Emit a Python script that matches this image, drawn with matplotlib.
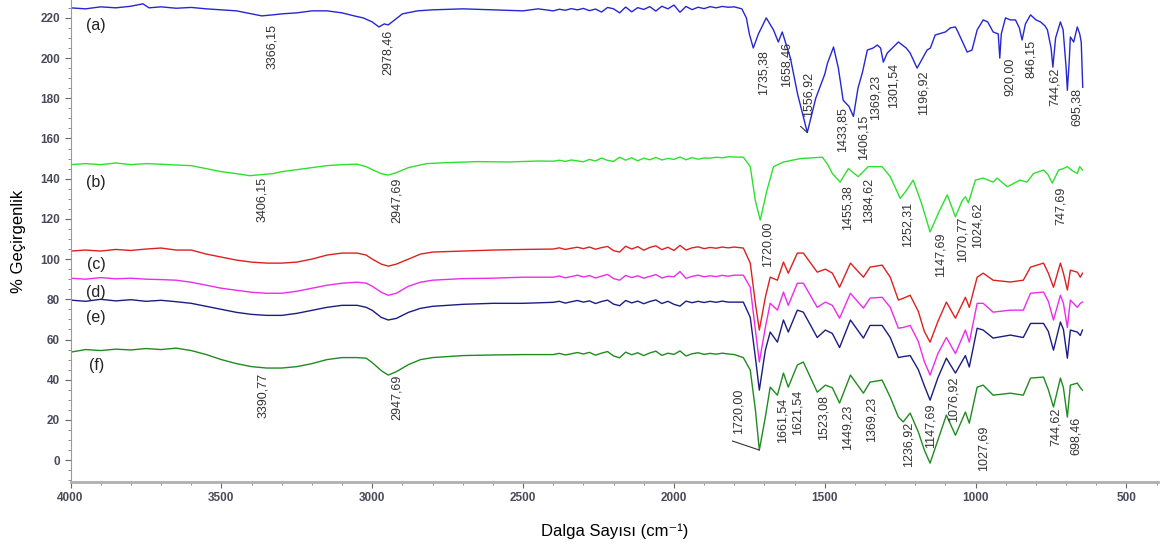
import numpy as np
import matplotlib
matplotlib.use("Agg")
import matplotlib.pyplot as plt
from matplotlib.ticker import MultipleLocator

plt.rcParams['font.family'] = ['Liberation Sans', 'DejaVu Sans']

# ---- spectra (wavenumber, % transmittance) ----
a_wn = [4000, 3950, 3900, 3850, 3800, 3760, 3740, 3700, 3650, 3600, 3550, 3500, 3450, 3400, 3366, 3330,
        3300, 3250, 3200, 3150, 3100, 3060, 3030, 3000, 2978, 2960, 2947, 2930, 2900, 2850, 2800, 2700,
        2600, 2500, 2450,
        2400, 2380, 2360, 2340, 2320, 2300, 2280, 2260, 2240, 2220, 2200, 2180, 2160, 2140, 2120, 2100,
        2080, 2060, 2040, 2020, 2000, 1980, 1960, 1940, 1920, 1900, 1880, 1860, 1840, 1820, 1800,
        1775, 1760, 1750, 1737, 1720, 1694, 1670, 1654, 1641, 1614, 1590, 1558, 1530, 1500, 1491, 1471,
        1455, 1439, 1420, 1405, 1390, 1375, 1359, 1340, 1326, 1315, 1306, 1293, 1256, 1230, 1217, 1194,
        1161, 1150, 1134, 1100, 1084, 1067, 1057, 1040, 1028, 1012, 995, 975, 960, 942, 925, 920,
        915, 901, 885, 868, 855, 846, 835, 818, 800, 785, 770, 762, 750, 744, 735, 719,
        710, 700, 696, 690, 686, 675, 663, 655, 650, 645]
a_t = [225, 224.5, 225.5, 225, 225.8, 227, 225, 225.5, 224.8, 225.2, 224.5, 224, 223.5, 222, 221, 221.5,
       222, 222.5, 223.5, 223.5, 222.5, 221, 220, 218, 215.5, 217, 216.5, 218.5, 222, 223.5, 224, 224.5,
       224, 223.5, 224.5,
       223.5, 224.3, 223.8, 224.6, 224, 224.7, 223.6, 224.4, 222.9, 225.2, 224.5, 222.5, 225.4, 223, 225.1, 224.2,
       225.6, 223.4, 225.8, 224.5, 226.4, 222.8, 225.7, 224.1, 225.3, 224.6, 225.6, 225, 225.7, 225.3, 225.5,
       224.5, 220, 212, 205, 212, 220, 214, 208, 213, 200, 182, 163, 180, 192, 197.5, 205.5,
       195, 179, 176, 171, 185, 193, 204, 205, 206.5, 205, 198, 202.5, 208, 205, 202.5, 195,
       204, 205, 211.5, 213, 215, 215.5, 212.5, 207, 203, 204, 214, 219, 218, 213, 212, 200,
       212, 220, 219, 219, 215, 209, 217, 221.5, 219, 218, 216, 214, 205, 195.5, 210, 218,
       214, 195, 184, 198, 210.5, 208, 215.5, 212, 208, 185.5]

b_wn = [4000, 3950, 3900, 3850, 3800, 3750, 3700, 3650, 3600, 3550, 3500, 3450, 3406, 3370, 3330, 3300,
        3250, 3200, 3150, 3100, 3050, 3020, 3000, 2970, 2947, 2920, 2880, 2820, 2750, 2650, 2550, 2450,
        2400, 2380, 2360, 2340, 2320, 2300, 2280, 2260, 2240, 2220, 2200, 2180, 2160, 2140, 2120, 2100,
        2080, 2060, 2040, 2020, 2000, 1980, 1960, 1940, 1920, 1900, 1880, 1860, 1840, 1820, 1800,
        1770, 1747, 1730, 1714,
        1692, 1670, 1637, 1581, 1508, 1490, 1475, 1449, 1422, 1389, 1356, 1310, 1283, 1250, 1230, 1207,
        1180, 1151, 1120, 1094, 1067, 1045, 1034, 1024, 1001, 975, 942, 929, 895, 853, 830, 808,
        775, 760, 746, 725, 710, 696, 680, 663, 655, 646]
b_t = [147, 147.5, 147, 147.8, 147, 147.5, 147.2, 146.8, 146.5, 145, 143.5, 142.5, 141.5, 142, 142.5, 143.5,
       144.5, 145.5, 146.5, 147, 147.2, 146, 144.5, 142.5, 141.8, 143, 145.5, 147.5, 148, 148.5, 148.3, 148.8,
       148.7, 149.2, 148.6, 149.3, 148.9, 148.4, 149.6, 148.8, 150.3, 149.1, 148.6, 150.7, 149.2, 150.4, 148.9, 150.2,
       149.4, 150.6, 149.3, 150.1, 149.6, 150.8, 149.4, 150.5, 149.7, 150.3, 150.2, 150.7, 150.4, 150.9, 150.8,
       150.7, 146, 129, 119.4,
       134, 146, 148.3, 150, 150.7, 147, 142.6, 138.3, 145, 141, 146, 146, 141, 130.2, 134, 139.3,
       128, 113.5, 124, 132, 121, 129, 131, 128, 139.3, 140.3, 138.3, 140.3, 136, 139.3, 138.3, 142.6,
       144.3, 142, 137.8, 144.3, 145, 146, 144, 142.6, 146, 144.3]

# c, d, e, f share the same sampling positions
cdef_wn = [4000, 3950, 3900, 3850, 3800, 3750, 3700, 3650, 3600, 3550, 3500, 3450, 3400, 3350, 3300, 3250,
           3200, 3150, 3100, 3050, 3020, 3000, 2970, 2947, 2920, 2880, 2840, 2800, 2700, 2600, 2500,
           2400, 2380, 2360, 2340, 2320, 2300, 2280, 2260, 2240, 2220, 2200, 2180, 2160, 2140, 2120, 2100,
           2080, 2060, 2040, 2020, 2000, 1980, 1960, 1940, 1920, 1900, 1880, 1860, 1840, 1820, 1800,
           1770, 1747, 1730,
           1717, 1697, 1681, 1657, 1637, 1621, 1591, 1571, 1525, 1498, 1475, 1451, 1415, 1372, 1350, 1310,
           1283, 1256, 1240, 1217, 1190, 1170, 1151, 1125, 1097, 1067, 1034, 1021, 995, 975, 942, 885,
           842, 818, 775, 759, 742, 719, 709, 696, 686, 663, 653, 646]
c_t = [104, 104.5, 104, 104.8, 104.3, 105, 105.5, 104.5, 104.5, 102.5, 101, 99.5, 98.5, 98, 98, 98.5,
       100, 102, 103, 103, 102, 100, 97.5, 96.5, 97.5, 100, 102.5, 103.5, 104, 104.5, 104.8,
       105, 105.6, 104.8, 105.4, 105.9, 105.2, 106, 104.9, 105.7, 106.3, 104.2, 103.5, 106.4, 105, 106.2, 104.4,
       105.8, 106.6, 104.7, 105.9, 104.3, 106.8, 104.5, 105.6, 106.1, 105.2, 105.8, 105.4, 106, 105.6, 106,
       105.5, 98, 78,
       64.7, 81, 91, 89.5, 98.5, 93, 103, 103, 93.5, 95, 93, 86, 98, 91, 96, 97,
       91, 79.6, 80.5, 82, 74, 64, 58.7, 69, 78.6, 70.6, 81, 76, 91, 93, 89.5, 88.6,
       89.5, 96, 98, 93, 86, 98, 93, 84.6, 94.5, 93.5, 91, 93]
d_t = [90.5, 90, 90.8, 90.2, 90.5, 90, 89.8, 89.5, 88.5, 87, 85.5, 84.5, 83.5, 83, 83, 84,
       85.5, 87, 88, 88.5, 88, 86.5, 83.5, 82, 83, 86.5, 88.5, 89.5, 90.3, 90.5, 91,
       91, 91.6, 90.7, 91.3, 92, 91.1, 91.8, 90.6, 91.5, 92.4, 90.3, 89.5, 91.9, 90.8, 91.7, 90.5,
       91.4, 92.3, 90.6, 91.5, 91.2, 93.8, 90.4, 91.4, 92, 91.2, 91.7, 91.3, 91.9, 91.5, 92,
       92, 86, 64.7,
       48.8, 66, 78, 74.6, 83.6, 77, 88, 88, 76, 78.6, 77, 70.6, 83, 75.6, 80.6, 81,
       76, 65.6, 66, 67, 59, 49, 42.3, 53, 61, 53, 64.7, 58.7, 78, 78, 73.6, 74.6,
       74.6, 83, 83.6, 79, 69.7, 82, 78, 66, 79.6, 76, 78, 78.6]
e_t = [79.6, 79, 80, 79.2, 79.8, 79, 79.5, 78.8, 78, 76.5, 75, 73.5, 72.5, 72, 72, 73,
       74.5, 76, 77, 77, 76, 74.5, 71, 69.7, 70.5, 73.5, 75.5, 76.5, 77.5, 78, 78,
       78.5, 79, 78.1, 78.8, 79.4, 78.6, 79.2, 77.9, 78.9, 79.6, 77.6, 76.8, 79.4, 78.2, 79.1, 77.8,
       78.9, 79.7, 77.9, 79, 77.5, 76.6, 79.1, 78.3, 79, 78.4, 79, 78.5, 79.1, 78.6, 78.6,
       78.6, 71, 51,
       34.8, 54.7, 63.7, 58.7, 69.7, 63.7, 74.6, 73.6, 61, 64.7, 63, 56, 69.7, 60.7, 67, 67,
       61, 51, 51.5, 52, 45, 37, 29.8, 41, 50.7, 43.3, 52, 46.3, 65.6, 64.7, 60.7, 62.2,
       61, 68, 68, 64, 54.7, 68.7, 65, 50.7, 64.7, 63.7, 62, 64.7]
f_t = [53.7, 55, 54.5, 55.2, 54.8, 55.5, 55, 55.7, 54.5, 52.5, 50, 48, 46.5, 45.8, 45.8, 46.5,
       48, 50, 51, 51, 50.7, 48.5, 44.5, 42.3, 44, 47.5, 50, 51, 52, 52.3, 52.5,
       52.5, 53.1, 52.3, 52.9, 53.5, 52.8, 53.6, 52.2, 53.2, 54, 51.8, 50.9, 53.7, 52.4, 53.4, 52,
       53.3, 54.2, 52.1, 53.2, 52.6, 54.3, 51.8, 52.9, 53.4, 52.6, 53.1, 52.7, 53.2, 52.8, 52.5,
       51, 44.8, 25,
       5, 21.4, 36.3, 32.3, 43.3, 36.3, 47.3, 48.8, 33.8, 37.3, 36, 28.4, 42.3, 33.3, 38.8, 39.8,
       31.3, 21.4, 19, 23.4, 14, 5, -1.5, 10, 22.4, 12.4, 23.9, 18.4, 36.3, 37.3, 32.3, 33.3,
       32.3, 40.8, 41.3, 35, 26.4, 40.8, 36, 21.4, 37.3, 38.3, 36, 34.8]

series_names = ["(a)", "(b)", "(c)", "(d)", "(e)", "(f)"]
series_colors = ["#2626d2", "#2ee02e", "#dd2020", "#ec2cec", "#1c1c82", "#1f8c1f"]
name_y = [216, 138, 97.5, 83.6, 71, 47]

# peak labels: (text, x position, top of text)
a_labels = [("3366,15", 3332, 217), ("2978,46", 2947, 214), ("1735,38", 1704, 204), ("1658,46", 1628, 208),
            ("1556,92", 1555, 193), ("1433,85", 1442, 175.6), ("1406,15", 1372, 171.6), ("1369,23", 1332, 191.5),
            ("1301,54", 1272, 197.5), ("1196,92", 1172, 194), ("920,00", 888, 200), ("846,15", 818, 209),
            ("744,62", 739, 195.5), ("695,38", 666, 185)]
b_labels = [("3406,15", 3366, 140.8), ("2947,69", 2918, 140.3), ("1720,00", 1689, 118.4), ("1455,38", 1425, 136.8),
            ("1384,62", 1356, 140.3), ("1252,31", 1227, 128.4), ("1147,69", 1117, 113), ("1070,77", 1043, 121),
            ("1024,62", 994, 128), ("747,69", 719, 136)]
f_labels = [("3390,77", 3361, 43.3), ("2947,69", 2918, 42.3), ("1720,00", 1786, 35.8), ("1661,54", 1641, 30.8),
            ("1621,54", 1591, 34.8), ("1523,08", 1505, 32.3), ("1449,23", 1425, 27.4), ("1369,23", 1346, 31.3),
            ("1236,92", 1223, 18.9), ("1147,69", 1148, 28.4), ("1076,92", 1073, 41.3), ("1027,69", 975, 17.4),
            ("744,62", 733, 25.9), ("698,46", 669, 21.4)]

fig = plt.figure(figsize=(11.62, 5.51), dpi=100)
ax = fig.add_axes([0.0607, 0.1252, 0.936, 0.8748])

xs = [a_wn, b_wn, cdef_wn, cdef_wn, cdef_wn, cdef_wn]
ys = [a_t, b_t, c_t, d_t, e_t, f_t]
for x, y, col in zip(xs, ys, series_colors):
    ax.plot(x, y, color=col, lw=1.0)

for name, yy in zip(series_names, name_y):
    ax.text(3915, yy, name, fontsize=11.5, color="#222", ha="center", va="center")

for labs in (a_labels, b_labels, f_labels):
    for txt, xx, yy in labs:
        ax.text(xx, yy, txt, rotation=90, fontsize=9, color="#333", ha="center", va="top")

# leader lines from label to peak
ax.plot([1806, 1717], [9.5, np.interp(1717, cdef_wn[::-1], f_t[::-1])], color="#333", lw=0.8)
ax.plot([1580, 1558], [166, np.interp(1558, a_wn[::-1], a_t[::-1])], color="#333", lw=0.8)

ax.set_xlim(4000, 395)
ax.set_ylim(-10.9, 228.9)
ax.xaxis.set_major_locator(MultipleLocator(500))
ax.xaxis.set_minor_locator(MultipleLocator(100))
ax.yaxis.set_major_locator(MultipleLocator(20))
ax.yaxis.set_minor_locator(MultipleLocator(5))
ax.set_yticks(np.arange(0, 221, 20))

for s in ("top", "right"):
    ax.spines[s].set_visible(False)
ax.spines["left"].set_color("#9a9a9a")
ax.spines["bottom"].set_color("#b0b0b0")
ax.spines["bottom"].set_linewidth(2)
ax.tick_params(axis="both", which="major", labelsize=8.5, labelcolor="#4a4a5a", color="#666", length=4)
ax.tick_params(axis="both", which="minor", color="#777", length=2)
for lab in ax.get_xticklabels() + ax.get_yticklabels():
    lab.set_fontweight("bold")

ax.set_xlabel("Dalga Sayısı (cm⁻¹)", fontsize=12, labelpad=14)
ax.set_ylabel("% Geçirgenlik", fontsize=12, labelpad=10)

fig.savefig("out.png", dpi=100)
